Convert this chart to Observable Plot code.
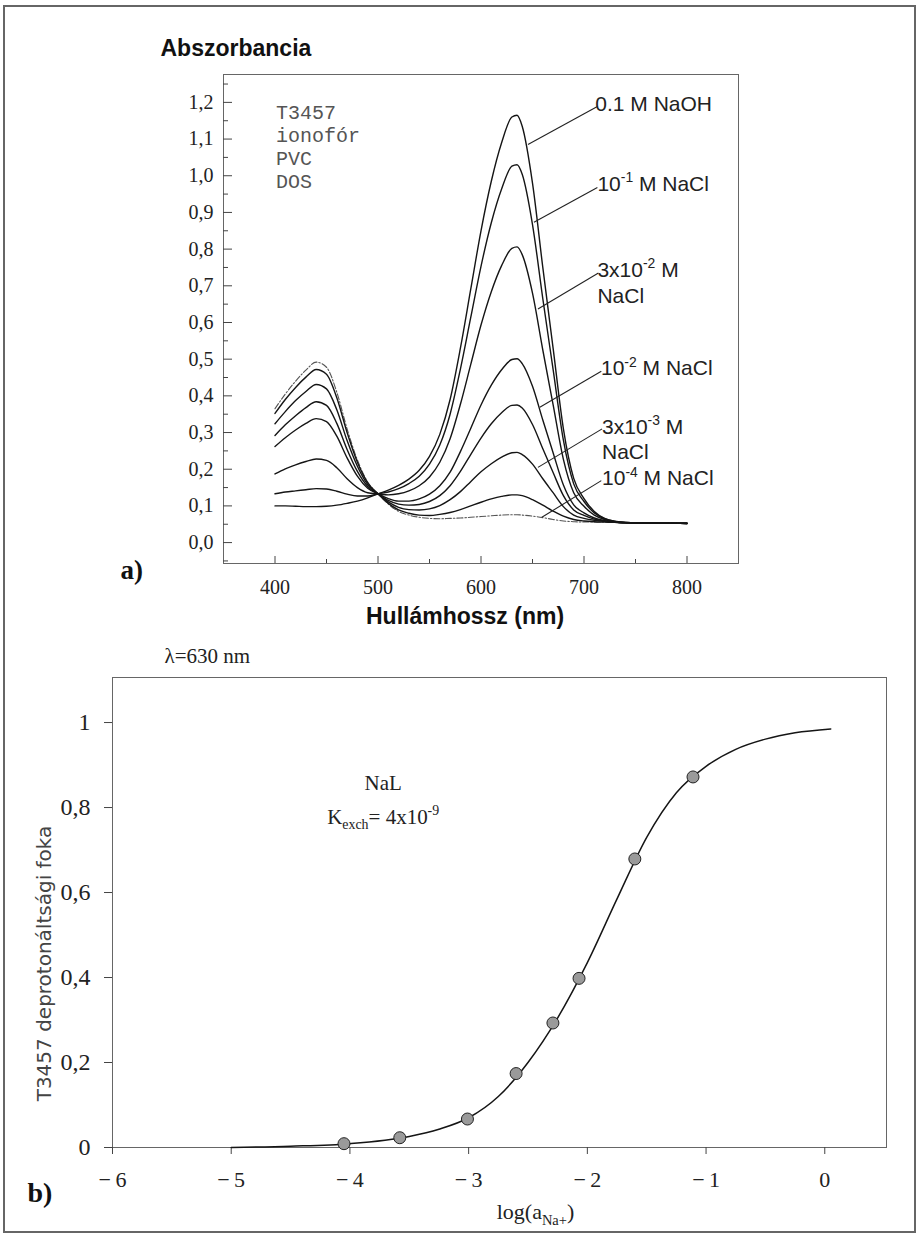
<!DOCTYPE html>
<html>
<head>
<meta charset="utf-8">
<script src="https://cdn.jsdelivr.net/npm/d3@7"></script>
<script src="https://cdn.jsdelivr.net/npm/@observablehq/plot@0.6"></script>
<style>
  body { margin: 0; background: #fff; }
  #page { position: relative; width: 920px; height: 1234px; background: #fff; }
  #border { position: absolute; left: 3px; top: 5px; width: 913px; height: 1228px; border: 2px solid #666; box-sizing: border-box; }
  #top { position: absolute; left: 0; top: 0; }
  #bot { position: absolute; left: 0; top: 640px; }
</style>
</head>
<body>
<div id="page"><div id="border"></div><div id="top"></div><div id="bot"></div></div>
<script>
// ---------- Panel a) : absorbance spectra ----------
const wavelength = [400,410,420,430,440,450,460,470,480,490,500,510,520,530,540,550,560,570,580,590,600,610,620,630,635,640,650,660,670,680,690,700,710,720,730,740,760,780,800];

const absNaOH    = [0.100,0.100,0.099,0.098,0.098,0.099,0.102,0.107,0.113,0.122, 0.133,0.143,0.156,0.173,0.197,0.235,0.295,0.390,0.530,0.690,0.850,0.985,1.090,1.160, 1.165, 1.135,0.980,0.750,0.530,0.310,0.175,0.120,0.085,0.066,0.058,0.055, 0.054,0.053,0.053];
const absNaCl1e1 = [0.133,0.138,0.141,0.144,0.147,0.146,0.140,0.132,0.127,0.127, 0.133,0.138,0.147,0.161,0.181,0.214,0.266,0.350,0.473,0.613,0.753,0.872,0.964,1.026, 1.030, 1.004,0.867,0.665,0.472,0.279,0.160,0.112,0.081,0.065,0.058,0.055, 0.054,0.053,0.053];
const absNaCl3e2 = [0.187,0.201,0.212,0.221,0.228,0.224,0.204,0.174,0.150,0.136, 0.133,0.130,0.133,0.141,0.155,0.179,0.219,0.283,0.377,0.485,0.593,0.684,0.755,0.802, 0.806, 0.785,0.680,0.525,0.376,0.227,0.136,0.099,0.075,0.063,0.057,0.055, 0.054,0.053,0.053];
const absNaCl1e2 = [0.262,0.286,0.307,0.325,0.338,0.330,0.290,0.231,0.181,0.148, 0.133,0.120,0.113,0.113,0.119,0.132,0.155,0.192,0.248,0.311,0.375,0.429,0.471,0.499, 0.501, 0.488,0.426,0.334,0.245,0.157,0.103,0.081,0.067,0.060,0.056,0.054, 0.053,0.053,0.052];
const absNaCl5e3 = [0.292,0.321,0.346,0.368,0.384,0.374,0.325,0.254,0.194,0.153, 0.133,0.115,0.105,0.102,0.104,0.112,0.128,0.155,0.194,0.240,0.285,0.324,0.354,0.374, 0.375, 0.367,0.322,0.256,0.191,0.128,0.089,0.074,0.064,0.059,0.056,0.054, 0.053,0.053,0.052];
const absNaCl3e3 = [0.324,0.357,0.387,0.412,0.431,0.419,0.362,0.278,0.208,0.158, 0.133,0.111,0.096,0.090,0.089,0.092,0.101,0.117,0.139,0.166,0.193,0.215,0.233,0.245, 0.246, 0.240,0.214,0.174,0.136,0.098,0.075,0.066,0.061,0.058,0.055,0.054, 0.053,0.053,0.052];
const absNaCl1e3 = [0.352,0.390,0.423,0.451,0.472,0.459,0.395,0.300,0.219,0.163, 0.133,0.107,0.089,0.080,0.075,0.074,0.077,0.082,0.090,0.100,0.110,0.119,0.126,0.130, 0.130, 0.128,0.117,0.102,0.086,0.072,0.063,0.059,0.057,0.056,0.055,0.054, 0.053,0.053,0.052];
const absNaCl1e4 = [0.365,0.405,0.440,0.470,0.492,0.478,0.410,0.310,0.225,0.165, 0.133,0.105,0.085,0.075,0.069,0.066,0.065,0.066,0.067,0.069,0.071,0.073,0.075,0.076, 0.076, 0.075,0.072,0.068,0.063,0.059,0.057,0.056,0.056,0.056,0.055,0.054, 0.053,0.053,0.052];

const solidSeries = [absNaOH, absNaCl1e1, absNaCl3e2, absNaCl1e2, absNaCl5e3, absNaCl3e3, absNaCl1e3];
const dashedSeries = [absNaCl1e4];

const yTicksTop = [0,0.1,0.2,0.3,0.4,0.5,0.6,0.7,0.8,0.9,1.0,1.1,1.2];
const yMinorTop = [-0.05,0.05,0.15,0.25,0.35,0.45,0.55,0.65,0.75,0.85,0.95,1.05,1.15,1.25];
const xTicksTop = [400,500,600,700,800];
const xMinorTop = [450,550,650,750];

// curve labels (text, anchor position in data units) and leader lines
const labelText = ["0.1 M NaOH", "10^{-1} M NaCl", "3x10^{-2} M", "NaCl", "10^{-2} M NaCl", "3x10^{-3} M", "NaCl", "10^{-4} M NaCl"];
const labelWl   = [711, 713, 713, 713, 716.5, 717.5, 717.5, 717.5];
const labelAbs  = [1.196, 0.976, 0.742, 0.672, 0.474, 0.314, 0.246, 0.174];
const leaderWl1  = [713, 713, 714, 716.8, 717.6, 716.8];
const leaderAbs1 = [1.189, 0.968, 0.735, 0.467, 0.310, 0.169];
const leaderWl2  = [645.6, 651.4, 655.3, 657.1, 655.3, 659.1];
const leaderAbs2 = [1.085, 0.873, 0.637, 0.369, 0.205, 0.069];

const compText = ["T3457", "ionofór", "PVC", "DOS"];
const compWl   = [401, 401, 401, 401];
const compAbs  = [1.173, 1.110, 1.048, 0.985];

// ---------- Panel b) : degree of deprotonation ----------
const logNa  = [-4.05, -3.58, -3.01, -2.60, -2.29, -2.07, -1.60, -1.11];
const deprot = [0.009, 0.023, 0.067, 0.174, 0.293, 0.398, 0.679, 0.872];
const fitLog    = [-5.0,-4.5,-4.0,-3.5,-3.25,-3.0,-2.75,-2.5,-2.25,-2.0,-1.75,-1.5,-1.25,-1.0,-0.75,-0.5,-0.25,0.05];
const fitDeprot = [0.000,0.003,0.009,0.026,0.043,0.070,0.120,0.200,0.305,0.435,0.585,0.730,0.835,0.897,0.937,0.961,0.976,0.985];
const yTicksBot = [0, 0.2, 0.4, 0.6, 0.8, 1];
const xTicksBot = [-6, -5, -4, -3, -2, -1, 0];

// ---------- helpers ----------
const SERIF = "'Liberation Serif', 'Times New Roman', serif";
const SANS = "'Liberation Sans', Arial, sans-serif";
const commaFmt = d => d.toFixed(1).replace(".", ",");
const blank = () => "";
const rows = (arr) => arr.flatMap((vals, k) => wavelength.map((w, i) => ({k, w, a: vals[i]})));

function richText(svg) {
  svg.querySelectorAll("text").forEach(t => {
    const s = t.textContent;
    if (!/[\^_]\{/.test(s)) return;
    const fs = parseFloat(getComputedStyle(t).fontSize) || 16;
    const parts = [];
    const re = /([\^_])\{([^}]*)\}/g;
    let last = 0, m;
    while ((m = re.exec(s))) {
      if (m.index > last) parts.push({t: s.slice(last, m.index), k: ""});
      parts.push({t: m[2], k: m[1]});
      last = re.lastIndex;
    }
    if (last < s.length) parts.push({t: s.slice(last), k: ""});
    while (t.firstChild) t.removeChild(t.firstChild);
    let shift = 0;
    for (const p of parts) {
      const ts = document.createElementNS("http://www.w3.org/2000/svg", "tspan");
      const target = p.k === "^" ? -0.42 : p.k === "_" ? 0.28 : 0;
      if (target !== shift) ts.setAttribute("dy", ((target - shift) * fs).toFixed(2));
      shift = target;
      if (p.k) ts.setAttribute("font-size", (fs * 0.66).toFixed(1));
      ts.textContent = p.t;
      t.appendChild(ts);
    }
  });
}

// ---------- chart a ----------
const topChart = Plot.plot({
  width: 920, height: 640,
  marginTop: 74, marginBottom: 77, marginLeft: 223, marginRight: 182,
  style: {fontFamily: SERIF, fontSize: "20px", color: "#222", background: "transparent", overflow: "visible"},
  x: {domain: [350, 850]},
  y: {domain: [-0.057, 1.276]},
  marks: [
    Plot.frame({stroke: "#666", strokeWidth: 1}),
    Plot.axisY({ticks: yTicksTop, tickSize: 0, tickPadding: 10, tickFormat: commaFmt, fontSize: 20, label: null}),
    Plot.axisY({ticks: yTicksTop, tickSize: 9, dx: 9, tickFormat: blank, label: null, stroke: "#444"}),
    Plot.axisY({ticks: yMinorTop, tickSize: 5, dx: 5, tickFormat: blank, label: null, stroke: "#444"}),
    Plot.axisX({ticks: xTicksTop, tickSize: 0, tickPadding: 16, fontSize: 20, label: null}),
    Plot.axisX({ticks: xTicksTop, tickSize: 7, dy: -7, tickFormat: blank, label: null, stroke: "#444"}),
    Plot.axisX({ticks: xMinorTop, tickSize: 4, dy: -4, tickFormat: blank, label: null, stroke: "#444"}),
    Plot.line(rows(dashedSeries), {x: "w", y: "a", z: "k", stroke: "#555", strokeWidth: 1.1, strokeDasharray: "6,2,1.5,2", curve: "monotone-x"}),
    Plot.line(rows(solidSeries), {x: "w", y: "a", z: "k", stroke: "#151515", strokeWidth: 1.4, curve: "monotone-x"}),
    Plot.link(d3.range(leaderWl1.length), {x1: i => leaderWl1[i], y1: i => leaderAbs1[i], x2: i => leaderWl2[i], y2: i => leaderAbs2[i], stroke: "#222", strokeWidth: 1.1}),
    Plot.text(d3.range(labelText.length), {x: i => labelWl[i], y: i => labelAbs[i], text: i => labelText[i], textAnchor: "start", fontFamily: SANS, fontSize: 21, fill: "#222"}),
    Plot.text(d3.range(compText.length), {x: i => compWl[i], y: i => compAbs[i], text: i => compText[i], textAnchor: "start", fontFamily: "'Liberation Mono', 'Courier New', monospace", fontSize: 20, fill: "#555"}),
    Plot.text(["Abszorbancia"], {frameAnchor: "top-left", dx: -63, dy: -35, textAnchor: "start", fontFamily: SANS, fontWeight: "bold", fontSize: 23, fill: "#111"}),
    Plot.text(["Hullámhossz (nm)"], {frameAnchor: "bottom", dx: -16, dy: 60, fontFamily: SANS, fontWeight: "bold", fontSize: 23, fill: "#111"}),
    Plot.text(["a)"], {frameAnchor: "bottom-left", dx: -103, dy: 15, textAnchor: "start", fontFamily: SERIF, fontWeight: "bold", fontSize: 27, fill: "#111"})
  ]
});
document.getElementById("top").appendChild(topChart);
richText(topChart);

// ---------- chart b ----------
const botChart = Plot.plot({
  width: 920, height: 594,
  marginTop: 37, marginBottom: 87, marginLeft: 112, marginRight: 34,
  style: {fontFamily: SERIF, fontSize: "22px", color: "#222", background: "transparent", overflow: "visible"},
  x: {domain: [-6, 0.52]},
  y: {domain: [0, 1.106]},
  marks: [
    Plot.frame({stroke: "#666", strokeWidth: 1}),
    Plot.axisY({ticks: yTicksBot, tickSize: 8, tickPadding: 14, fontSize: 24, tickFormat: d => (d === 0 || d === 1) ? String(d) : commaFmt(d), label: null, stroke: "#444"}),
    Plot.axisX({ticks: xTicksBot, tickSize: 7, tickPadding: 17, fontSize: 22, tickFormat: d => d < 0 ? "\u2212\u2009" + (-d) : String(d), label: null, stroke: "#444"}),
    Plot.line(fitLog.map((x, i) => ({x, y: fitDeprot[i]})), {x: "x", y: "y", stroke: "#151515", strokeWidth: 1.5, curve: "monotone-x"}),
    Plot.dot(logNa.map((x, i) => ({x, y: deprot[i]})), {x: "x", y: "y", r: 6, fill: "#9a9a9a", stroke: "#222", strokeWidth: 1}),
    Plot.text(["NaL"], {x: [-3.72], y: [0.857], fontFamily: SERIF, fontSize: 21, fill: "#222"}),
    Plot.text(["K_{exch}= 4x10^{-9}"], {x: [-3.72], y: [0.778], fontFamily: SERIF, fontSize: 21, fill: "#222"}),
    Plot.text(["λ=630 nm"], {frameAnchor: "top-left", dx: 52, dy: -29, textAnchor: "start", fontFamily: SERIF, fontSize: 21, fill: "#222"}),
    Plot.text(["log(a_{Na+})"], {frameAnchor: "bottom", dx: 36, dy: 71, fontFamily: SERIF, fontSize: 22, fill: "#222"}),
    Plot.text(["T3457 deprotonáltsági foka"], {frameAnchor: "left", dx: -68, dy: 51, rotate: -90, textAnchor: "middle", fontFamily: "'DejaVu Sans', Verdana, sans-serif", fontSize: 20, fill: "#444"}),
    Plot.text(["b)"], {frameAnchor: "bottom-left", dx: -85, dy: 54, textAnchor: "start", fontFamily: SERIF, fontWeight: "bold", fontSize: 28, fill: "#111"})
  ]
});
document.getElementById("bot").appendChild(botChart);
richText(botChart);
</script>
</body>
</html>
